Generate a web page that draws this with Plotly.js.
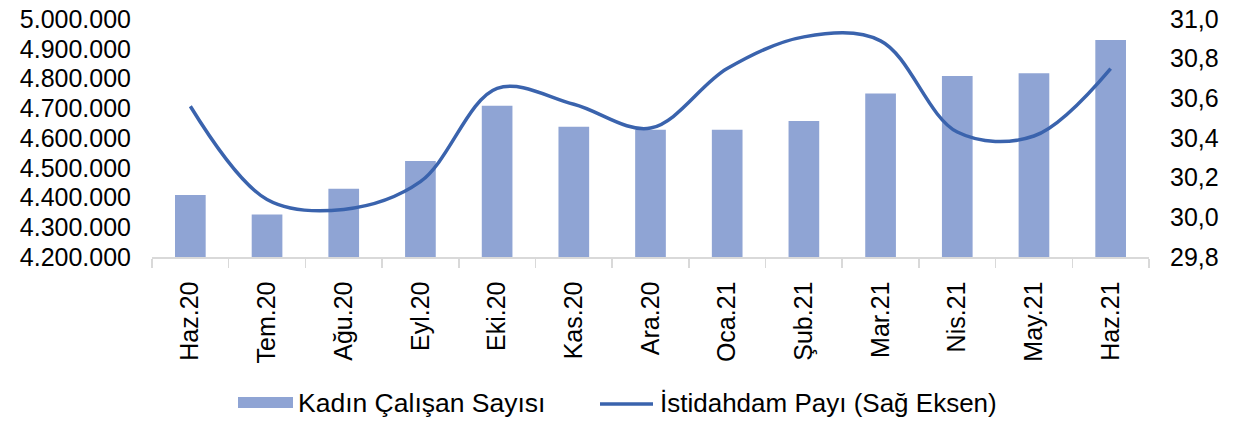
<!DOCTYPE html>
<html>
<head>
<meta charset="utf-8">
<script src="https://cdn.plot.ly/plotly-3.0.1.min.js"></script>
<style>html,body{margin:0;padding:0;background:#fff;}#chart{width:1233px;height:421px;}</style>
</head>
<body>
<div id="chart"></div>
<script>
const categories = ["Haz.20","Tem.20","Ağu.20","Eyl.20","Eki.20","Kas.20","Ara.20","Oca.21","Şub.21","Mar.21","Nis.21","May.21","Haz.21"];
const kadinCalisan = [4408000,4343000,4429000,4523000,4708000,4638000,4628000,4628000,4657000,4750000,4808000,4818000,4929000];
const istihdamPayi = [30.56,30.09,30.04,30.18,30.65,30.57,30.45,30.75,30.91,30.89,30.43,30.41,30.75];
const barName = "Kadın Çalışan Sayısı";
const lineName = "İstidahdam Payı (Sağ Eksen)";

const FONT = "Liberation Sans, Arial, sans-serif";
const barColor = "#8FA4D4";
const lineColor = "#3A63AD";

const traces = [
  {type:"bar", x:categories, y:kadinCalisan, name:barName, marker:{color:barColor}, width:0.4, showlegend:false, yaxis:"y"},
  {type:"scatter", mode:"lines", x:categories, y:istihdamPayi, name:lineName, line:{color:lineColor, width:3.5, shape:"spline", smoothing:1}, showlegend:false, yaxis:"y2"}
];

const layout = {
  width:1233, height:421,
  margin:{l:152, r:84, t:19, b:164},
  paper_bgcolor:"#fff", plot_bgcolor:"#fff",
  separators:",.",
  font:{family:FONT, color:"#000"},
  showlegend:false,
  xaxis:{type:"category", showline:true, linecolor:"#d9d9d9", linewidth:1.5, ticks:"outside", tickson:"boundaries", ticklen:9, tickcolor:"#d9d9d9", tickwidth:1.5, tickangle:-90, tickfont:{size:25, family:FONT, color:"#000"}, showgrid:false, zeroline:false, ticklabelstandoff:13},
  yaxis:{range:[4200000,5000000], dtick:100000, tickformat:",d", showgrid:false, zeroline:false, showline:false, ticks:"", tickfont:{size:25, family:FONT, color:"#000"}, ticklabelstandoff:20},
  yaxis2:{range:[29.8,31.0], dtick:0.2, tickformat:".1f", overlaying:"y", side:"right", showgrid:false, zeroline:false, showline:false, ticks:"", tickfont:{size:25, family:FONT, color:"#000"}, ticklabelstandoff:20},
  shapes:[
    {type:"rect", xref:"paper", yref:"paper", x0:(238-152)/997, x1:(293-152)/997, y0:-(408-257)/238, y1:-(397-257)/238, fillcolor:barColor, line:{width:0}},
    {type:"line", xref:"paper", yref:"paper", x0:(600-152)/997, x1:(653-152)/997, y0:-(404-257)/238, y1:-(404-257)/238, line:{color:lineColor, width:3.5}}
  ],
  annotations:[
    {xref:"paper", yref:"paper", x:(296-152)/997, y:-(403-257)/238, xanchor:"left", yanchor:"middle", text:barName, showarrow:false, font:{size:26.5, family:FONT, color:"#000"}},
    {xref:"paper", yref:"paper", x:(658-152)/997, y:-(403-257)/238, xanchor:"left", yanchor:"middle", text:lineName, showarrow:false, font:{size:26, family:FONT, color:"#000"}}
  ]
};
Plotly.newPlot("chart", traces, layout, {displayModeBar:false, staticPlot:true});
</script>
</body>
</html>
